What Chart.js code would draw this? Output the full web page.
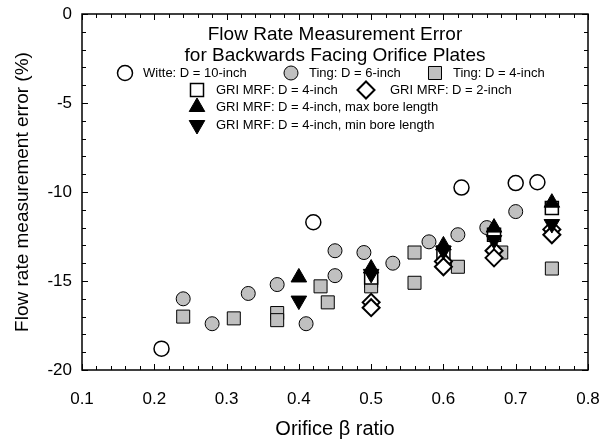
<!DOCTYPE html>
<html>
<head>
<meta charset="utf-8">
<script src="https://cdn.jsdelivr.net/npm/chart.js@4.4.1/dist/chart.umd.min.js"></script>
<style>
  html, body { margin: 0; padding: 0; background: #fff; }
  #wrap { width: 606px; height: 446px; }
</style>
</head>
<body>
<div id="wrap"><canvas id="flowChart" width="606" height="446"></canvas></div>
<script>
// data (beta ratio, error %)
var witteBeta = [0.21, 0.42, 0.625, 0.70, 0.73];
var witteErr  = [-18.8, -11.7, -9.75, -9.5, -9.45];

var ting6Beta = [0.24, 0.28, 0.33, 0.37, 0.41, 0.45, 0.45, 0.49, 0.53, 0.58, 0.62, 0.66, 0.70];
var ting6Err  = [-16.0, -17.4, -15.7, -15.2, -17.4, -14.7, -13.3, -13.4, -14.0, -12.8, -12.4, -12.0, -11.1];

var ting4Beta = [0.24, 0.31, 0.37, 0.37, 0.43, 0.44, 0.50, 0.50, 0.56, 0.56, 0.62, 0.68, 0.75];
var ting4Err  = [-17.0, -17.1, -16.8, -17.2, -15.3, -16.2, -15.0, -15.3, -13.4, -15.1, -14.2, -13.4, -14.3];

var gri4Beta = [0.50, 0.60, 0.67, 0.75];
var gri4Err  = [-14.8, -13.4, -12.4, -10.9];

var gri2Beta = [0.50, 0.50, 0.60, 0.60, 0.67, 0.67, 0.75, 0.75];
var gri2Err  = [-16.2, -16.5, -13.9, -14.2, -13.3, -13.7, -12.1, -12.4];

var maxBoreBeta = [0.40, 0.50, 0.60, 0.67, 0.75];
var maxBoreErr  = [-14.8, -14.3, -13.0, -12.0, -10.6];

var minBoreBeta = [0.40, 0.50, 0.60, 0.67, 0.75];
var minBoreErr  = [-16.1, -14.6, -13.3, -12.7, -11.8];

var xTickLabels = ['0.1', '0.2', '0.3', '0.4', '0.5', '0.6', '0.7', '0.8'];
var yTickLabels = ['0', '-5', '-10', '-15', '-20'];

var titleLines = ['Flow Rate Measurement Error', 'for Backwards Facing Orifice Plates'];

function pts(xs, ys) {
    return xs.map(function (x, i) { return { x: x, y: ys[i] }; });
}

var FONT = '"Liberation Sans", Arial, sans-serif';
var GRAY = '#c0c0c0';

function isMajorX(v) { return Math.abs(v * 10 - Math.round(v * 10)) < 1e-6 && xTickLabels.indexOf(v.toFixed(1)) >= 0; }
function isMajorY(v) { return Math.abs(v - Math.round(v)) < 1e-6 && yTickLabels.indexOf(String(Math.round(v))) >= 0; }

// box with inward ticks on all four sides
var frameTicks = {
    id: 'frameTicks',
    afterDatasetsDraw: function (chart) {
        var ctx = chart.ctx, a = chart.chartArea;
        var xs = chart.scales.x, ys = chart.scales.y;
        ctx.save();
        ctx.strokeStyle = '#000';
        ctx.lineWidth = 1;
        ctx.beginPath();
        xs.ticks.forEach(function (t) {
            var px = Math.round(xs.getPixelForValue(t.value)) + 0.5;
            var len = isMajorX(t.value) ? 6 : 4;
            ctx.moveTo(px, a.bottom); ctx.lineTo(px, a.bottom - len);
            ctx.moveTo(px, a.top); ctx.lineTo(px, a.top + len);
        });
        ys.ticks.forEach(function (t) {
            var py = Math.round(ys.getPixelForValue(t.value)) + 0.5;
            var len = isMajorY(t.value) ? 6 : 4;
            ctx.moveTo(a.left, py); ctx.lineTo(a.left + len, py);
            ctx.moveTo(a.right, py); ctx.lineTo(a.right - len, py);
        });
        ctx.stroke();
        ctx.lineWidth = 1.5;
        ctx.strokeRect(a.left, a.top, a.right - a.left, a.bottom - a.top);
        ctx.restore();
    }
};

// title + legend block inside the plot
var legendBlock = {
    id: 'legendBlock',
    afterDraw: function (chart) {
        var ctx = chart.ctx, a = chart.chartArea;
        var ds = chart.data.datasets;
        var cx = (a.left + a.right) / 2;
        ctx.save();
        ctx.fillStyle = '#000';
        ctx.textAlign = 'center';
        ctx.textBaseline = 'middle';
        ctx.font = '19px ' + FONT;
        ctx.fillText(titleLines[0], cx, 35);
        ctx.fillText(titleLines[1], cx, 56);

        var rows = [
            [{ i: 5, mx: 125, tx: 143, y: 73 }, { i: 6, mx: 291, tx: 309, y: 73 }, { i: 4, mx: 435, tx: 453, y: 73 }],
            [{ i: 3, mx: 197, tx: 216, y: 90 }, { i: 2, mx: 366, tx: 390, y: 90 }],
            [{ i: 0, mx: 197, tx: 216, y: 107 }],
            [{ i: 1, mx: 197, tx: 216, y: 125 }]
        ];
        ctx.font = '13px ' + FONT;
        ctx.textAlign = 'left';
        rows.forEach(function (row) {
            row.forEach(function (e) {
                var d = ds[e.i];
                ctx.fillStyle = d.backgroundColor;
                ctx.strokeStyle = d.borderColor;
                ctx.lineWidth = d.borderWidth;
                Chart.helpers.drawPoint(ctx, {
                    pointStyle: d.pointStyle,
                    radius: d.pointRadius,
                    rotation: d.rotation || 0,
                    borderWidth: d.borderWidth
                }, e.mx, e.y);
                ctx.fillStyle = '#000';
                ctx.fillText(d.label, e.tx, e.y);
            });
        });
        ctx.restore();
    }
};

var ctx = document.getElementById('flowChart').getContext('2d');
var flowChart = new Chart(ctx, {
    type: 'scatter',
    data: {
        datasets: [{
            label: 'GRI MRF: D = 4-inch, max bore length',
            data: pts(maxBoreBeta, maxBoreErr),
            pointStyle: 'triangle',
            pointRadius: 9,
            backgroundColor: '#000',
            borderColor: '#000',
            borderWidth: 1
        }, {
            label: 'GRI MRF: D = 4-inch, min bore length',
            data: pts(minBoreBeta, minBoreErr),
            pointStyle: 'triangle',
            rotation: 180,
            pointRadius: 9,
            backgroundColor: '#000',
            borderColor: '#000',
            borderWidth: 1
        }, {
            label: 'GRI MRF: D = 2-inch',
            data: pts(gri2Beta, gri2Err),
            pointStyle: 'rectRot',
            pointRadius: 8.5,
            backgroundColor: '#fff',
            borderColor: '#000',
            borderWidth: 2
        }, {
            label: 'GRI MRF: D = 4-inch',
            data: pts(gri4Beta, gri4Err),
            pointStyle: 'rect',
            pointRadius: 9.2,
            backgroundColor: '#fff',
            borderColor: '#000',
            borderWidth: 1.5
        }, {
            label: 'Ting: D = 4-inch',
            data: pts(ting4Beta, ting4Err),
            pointStyle: 'rect',
            pointRadius: 9.2,
            backgroundColor: GRAY,
            borderColor: '#000',
            borderWidth: 1
        }, {
            label: 'Witte: D = 10-inch',
            data: pts(witteBeta, witteErr),
            pointStyle: 'circle',
            pointRadius: 7.5,
            backgroundColor: '#fff',
            borderColor: '#000',
            borderWidth: 1.5
        }, {
            label: 'Ting: D = 6-inch',
            data: pts(ting6Beta, ting6Err),
            pointStyle: 'circle',
            pointRadius: 7,
            backgroundColor: GRAY,
            borderColor: '#000',
            borderWidth: 1
        }]
    },
    options: {
        responsive: false,
        animation: false,
        layout: { padding: { top: 14, right: 18, left: 0, bottom: 0 } },
        plugins: {
            legend: { display: false },
            title: { display: false },
            tooltip: { enabled: false }
        },
        scales: {
            x: {
                type: 'linear',
                min: 0.1,
                max: 0.8,
                afterFit: function (s) { s.height = 76; s.paddingLeft = 0; s.paddingRight = 0; },
                grid: { display: false, drawTicks: false },
                border: { display: false },
                ticks: {
                    stepSize: 0.02,
                    autoSkip: false,
                    maxRotation: 0,
                    padding: 19,
                    color: '#000',
                    font: { family: FONT, size: 17 },
                    callback: function (v) { return isMajorX(v) ? v.toFixed(1) : ''; }
                },
                title: {
                    display: true,
                    text: 'Orifice β ratio',
                    color: '#000',
                    font: { family: FONT, size: 20 },
                    padding: { top: 0, bottom: 5 }
                }
            },
            y: {
                type: 'linear',
                min: -20,
                max: 0,
                afterFit: function (s) { s.width = 82; s.paddingTop = 0; s.paddingBottom = 0; },
                grid: { display: false, drawTicks: false },
                border: { display: false },
                ticks: {
                    stepSize: 1,
                    autoSkip: false,
                    padding: 10,
                    color: '#000',
                    font: { family: FONT, size: 17 },
                    callback: function (v) { return isMajorY(v) ? String(Math.round(v)) : ''; }
                },
                title: {
                    display: true,
                    text: 'Flow rate measurement error (%)',
                    color: '#000',
                    font: { family: FONT, size: 19 },
                    padding: { top: 11, bottom: 0 }
                }
            }
        }
    },
    plugins: [frameTicks, legendBlock]
});
</script>
</body>
</html>
